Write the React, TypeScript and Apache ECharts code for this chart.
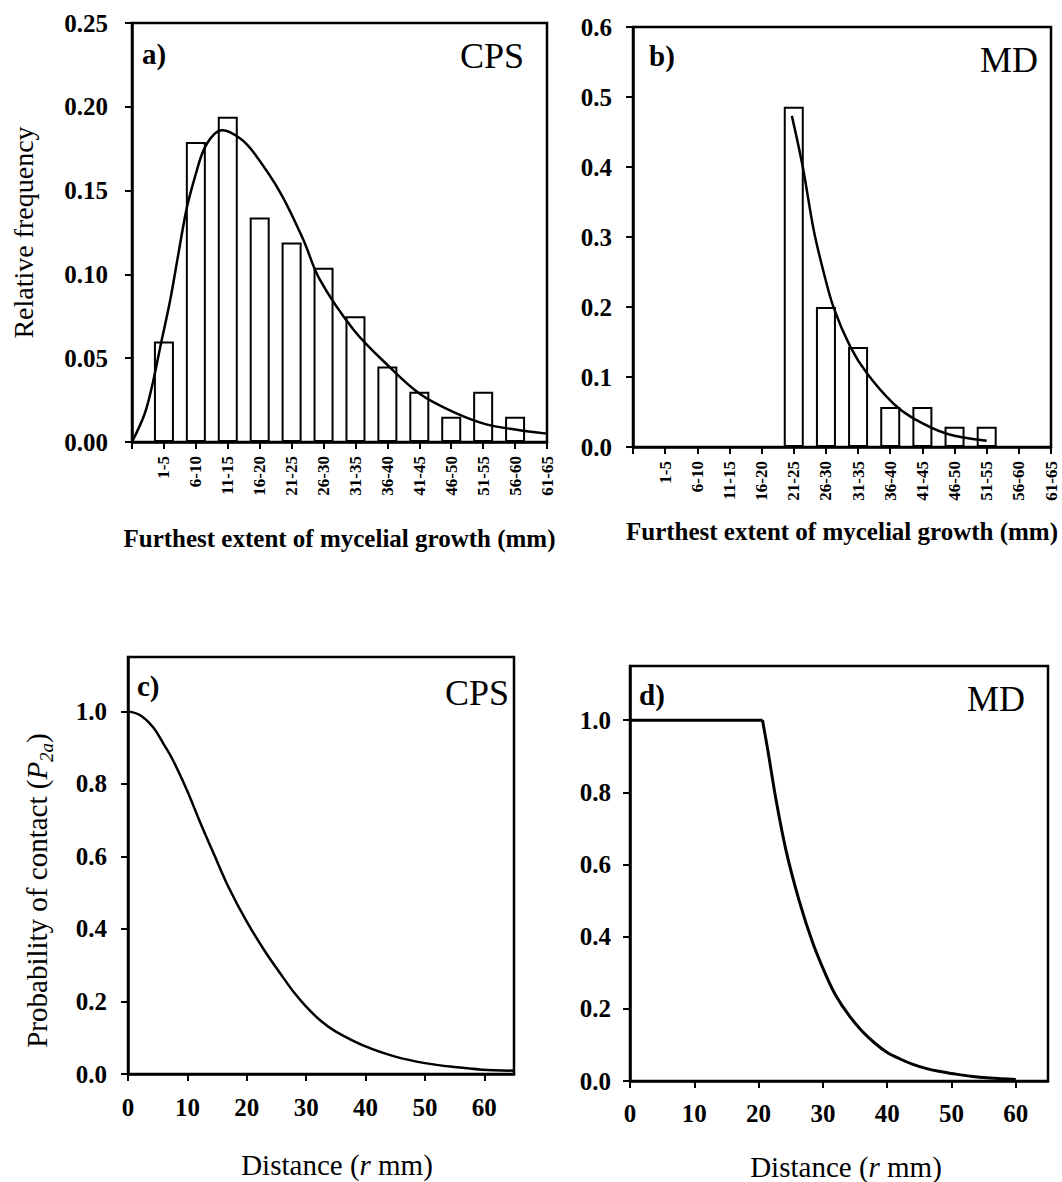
import React, { useEffect, useRef } from "react";
import * as echarts from "echarts";

// ---------- data ----------
const binLabels = ["1-5", "6-10", "11-15", "16-20", "21-25", "26-30", "31-35", "36-40", "41-45", "46-50", "51-55", "56-60", "61-65"];
const cpsFreq = [0.060, 0.179, 0.194, 0.134, 0.119, 0.104, 0.075, 0.045, 0.030, 0.015, 0.030, 0.015, 0];
const mdFreq = [0, 0, 0, 0, 0.486, 0.200, 0.143, 0.057, 0.057, 0.029, 0.029, 0, 0];

// fitted frequency curves (mm, relative frequency)
const cpsFit: number[][] = [
  [0, 0], [2, 0.017], [3.3, 0.036], [4.5, 0.058], [6, 0.085], [7.3, 0.113], [8.6, 0.14],
  [10, 0.16], [11.2, 0.174], [12.7, 0.183], [14.2, 0.186], [17, 0.181], [19, 0.173],
  [23.2, 0.149], [26.8, 0.121], [29.4, 0.097], [34.7, 0.067], [40, 0.046], [45, 0.029],
  [50.3, 0.018], [55.5, 0.0105], [60, 0.0075], [65, 0.005],
];
const mdFit: number[][] = [
  [24.7, 0.473], [26.4, 0.40], [28.1, 0.31], [29.5, 0.255], [31.2, 0.199], [33.8, 0.143],
  [36.4, 0.105], [40.5, 0.062], [43.6, 0.041], [48.8, 0.019], [55, 0.009],
];

// probability of contact (distance mm, P2a)
const cpsContact: number[][] = [
  [0, 1], [2, 0.99], [4.2, 0.957], [6, 0.91], [7.55, 0.866], [10, 0.78], [12, 0.70],
  [14.5, 0.605], [17, 0.513], [20, 0.42], [23, 0.34], [26, 0.269], [28, 0.224], [30, 0.186],
  [32.5, 0.146], [35, 0.117], [40, 0.076], [45, 0.048], [50, 0.030], [55, 0.019],
  [59.6, 0.012], [65, 0.009],
];
const mdContactFlat: number[][] = [[0, 1], [20.6, 1]];
const mdContact: number[][] = [
  [20.6, 1], [21.4, 0.92], [22.7, 0.78], [24.25, 0.64], [26.3, 0.5], [28.4, 0.384],
  [30.5, 0.292], [32, 0.237], [34, 0.183], [36, 0.14], [38, 0.106], [40, 0.079],
  [42, 0.061], [44, 0.046], [46, 0.035], [48, 0.027], [50, 0.021], [53, 0.013],
  [56, 0.008], [60, 0.004],
];

const FONT = "'Liberation Serif', 'Times New Roman', serif";

function binUpper(label: string): number {
  return Number(label.split("-")[1]);
}

function barData(freq: number[]) {
  const out: number[][] = [];
  binLabels.forEach((l, i) => {
    if (freq[i] > 0) out.push([binUpper(l), freq[i]]);
  });
  return out;
}

function binLabelFor(v: number): string {
  const idx = binLabels.findIndex((l) => binUpper(l) === Math.round(v));
  return idx >= 0 ? binLabels[idx] : "";
}

const isMultiple = (v: number, step: number) => Math.abs(v / step - Math.round(v / step)) < 1e-6;

export default function App() {
  const ref = useRef<HTMLDivElement>(null);

  useEffect(() => {
    if (!ref.current) return;
    const chart = echarts.init(ref.current, undefined, { renderer: "svg" });

    const grids = [
      { left: 132, top: 23, width: 415, height: 419 },
      { left: 633, top: 27, width: 418, height: 420 },
      { left: 128, top: 657, width: 386, height: 417 },
      { left: 630, top: 666, width: 418, height: 417 },
    ].map((g) => ({ ...g, show: true, borderColor: "#000", borderWidth: 2.5, containLabel: false }));

    const axisLine = { show: true, lineStyle: { color: "#000", width: 2.5 } };
    const axisTick = { show: true, length: 7, lineStyle: { color: "#000", width: 2 } };
    const tickFont = { color: "#000", fontFamily: FONT, fontWeight: "bold" as const, fontSize: 25 };

    const multipleFmt = (step: number, dec: number) => (v: number) =>
      isMultiple(v, step) ? v.toFixed(dec) : "";

    const binXAxis = (gridIndex: number, nameGap: number) => ({
      type: "value" as const,
      gridIndex,
      min: 0,
      max: 65,
      interval: 5,
      axisLine,
      axisTick,
      splitLine: { show: false },
      axisLabel: {
        rotate: 90,
        margin: 14,
        color: "#000",
        fontFamily: FONT,
        fontWeight: "bold" as const,
        fontSize: 17,
        showMaxLabel: true,
        formatter: (v: number) => binLabelFor(v),
      },
      name: "Furthest extent of mycelial growth (mm)",
      nameLocation: "middle" as const,
      nameGap,
      nameTextStyle: { color: "#000", fontFamily: FONT, fontWeight: "bold" as const, fontSize: 25 },
    });

    const distXAxis = (gridIndex: number, nameGap: number, shift: number, margin: number) => ({
      type: "value" as const,
      gridIndex,
      min: 0,
      max: 65,
      interval: 10,
      axisLine,
      axisTick,
      splitLine: { show: false },
      axisLabel: { ...tickFont, margin, formatter: multipleFmt(10, 0), showMaxLabel: false },
      name: "{n|Distance (}{i|r}{n| mm)}",
      nameLocation: "middle" as const,
      nameGap,
      nameTextStyle: {
        color: "#000",
        fontFamily: FONT,
        fontSize: 29,
        padding: [0, 0, 0, shift],
        rich: {
          n: { color: "#000", fontFamily: FONT, fontSize: 29 },
          i: { color: "#000", fontFamily: FONT, fontSize: 29, fontStyle: "italic" },
        },
      },
    });

    const yAxisBase = (gridIndex: number, max: number, step: number, dec: number, margin: number) => ({
      type: "value" as const,
      gridIndex,
      min: 0,
      max,
      interval: step,
      axisLine,
      axisTick,
      splitLine: { show: false },
      axisLabel: { ...tickFont, margin, formatter: multipleFmt(step, dec), showMaxLabel: isMultiple(max, step) },
    });

    const lineStyle = { color: "#000", width: 2.5 };

    const option: any = {
      animation: false,
      backgroundColor: "#fff",
      grid: grids,
      xAxis: [
        binXAxis(0, 84),
        binXAxis(1, 72),
        distXAxis(2, 76, 32, 21),
        distXAxis(3, 71, 14, 20),
      ],
      yAxis: [
        {
          ...yAxisBase(0, 0.25, 0.05, 2, 24),
          name: "Relative frequency",
          nameLocation: "middle",
          nameGap: 95,
          nameTextStyle: { color: "#000", fontFamily: FONT, fontSize: 28 },
        },
        yAxisBase(1, 0.6, 0.1, 1, 21),
        {
          ...yAxisBase(2, 1.15, 0.2, 1, 21),
          name: "{n|Probability of contact (}{i|P}{s|2a}{n|)}",
          nameLocation: "middle",
          nameGap: 72,
          nameTextStyle: {
            color: "#000",
            fontFamily: FONT,
            fontSize: 29,
            padding: [0, 50, 0, 0],
            rich: {
              n: { color: "#000", fontFamily: FONT, fontSize: 29, lineHeight: 38 },
              i: { color: "#000", fontFamily: FONT, fontSize: 29, fontStyle: "italic", lineHeight: 38 },
              s: { color: "#000", fontFamily: FONT, fontSize: 19, fontStyle: "italic", verticalAlign: "bottom", lineHeight: 38 },
            },
          },
        },
        yAxisBase(3, 1.15, 0.2, 1, 19),
      ],
      series: [
        {
          type: "bar",
          xAxisIndex: 0,
          yAxisIndex: 0,
          data: barData(cpsFreq),
          barWidth: 20,
          itemStyle: { color: "#fff", borderColor: "#000", borderWidth: 2 },
          z: 2,
        },
        {
          type: "line",
          xAxisIndex: 0,
          yAxisIndex: 0,
          data: cpsFit,
          smooth: 0.35,
          symbol: "none",
          lineStyle,
          z: 3,
        },
        {
          type: "bar",
          xAxisIndex: 1,
          yAxisIndex: 1,
          data: barData(mdFreq),
          barWidth: 20,
          itemStyle: { color: "#fff", borderColor: "#000", borderWidth: 2 },
          z: 2,
        },
        {
          type: "line",
          xAxisIndex: 1,
          yAxisIndex: 1,
          data: mdFit,
          smooth: 0.35,
          symbol: "none",
          lineStyle,
          z: 3,
        },
        {
          type: "line",
          xAxisIndex: 2,
          yAxisIndex: 2,
          data: cpsContact,
          smooth: 0.35,
          symbol: "none",
          lineStyle,
        },
        {
          type: "line",
          xAxisIndex: 3,
          yAxisIndex: 3,
          data: mdContactFlat,
          symbol: "none",
          lineStyle: { color: "#000", width: 3 },
        },
        {
          type: "line",
          xAxisIndex: 3,
          yAxisIndex: 3,
          data: mdContact,
          smooth: 0.35,
          symbol: "none",
          lineStyle: { color: "#000", width: 3 },
        },
      ],
      graphic: [
        { type: "text", left: 142, top: 39, style: { text: "a)", fill: "#000", font: `bold 29px ${FONT}` } },
        { type: "text", left: 460, top: 38, style: { text: "CPS", fill: "#000", font: `36px ${FONT}` } },
        { type: "text", left: 649, top: 41, style: { text: "b)", fill: "#000", font: `bold 29px ${FONT}` } },
        { type: "text", left: 980, top: 42, style: { text: "MD", fill: "#000", font: `36px ${FONT}` } },
        { type: "text", left: 137, top: 671, style: { text: "c)", fill: "#000", font: `bold 29px ${FONT}` } },
        { type: "text", left: 445, top: 675, style: { text: "CPS", fill: "#000", font: `36px ${FONT}` } },
        { type: "text", left: 639, top: 680, style: { text: "d)", fill: "#000", font: `bold 29px ${FONT}` } },
        { type: "text", left: 967, top: 681, style: { text: "MD", fill: "#000", font: `36px ${FONT}` } },
      ],
    };

    chart.setOption(option);
    return () => chart.dispose();
  }, []);

  return (
    <div
      ref={ref}
      style={{ position: "absolute", left: 0, top: 0, width: 1062, height: 1182, background: "#fff" }}
    />
  );
}
